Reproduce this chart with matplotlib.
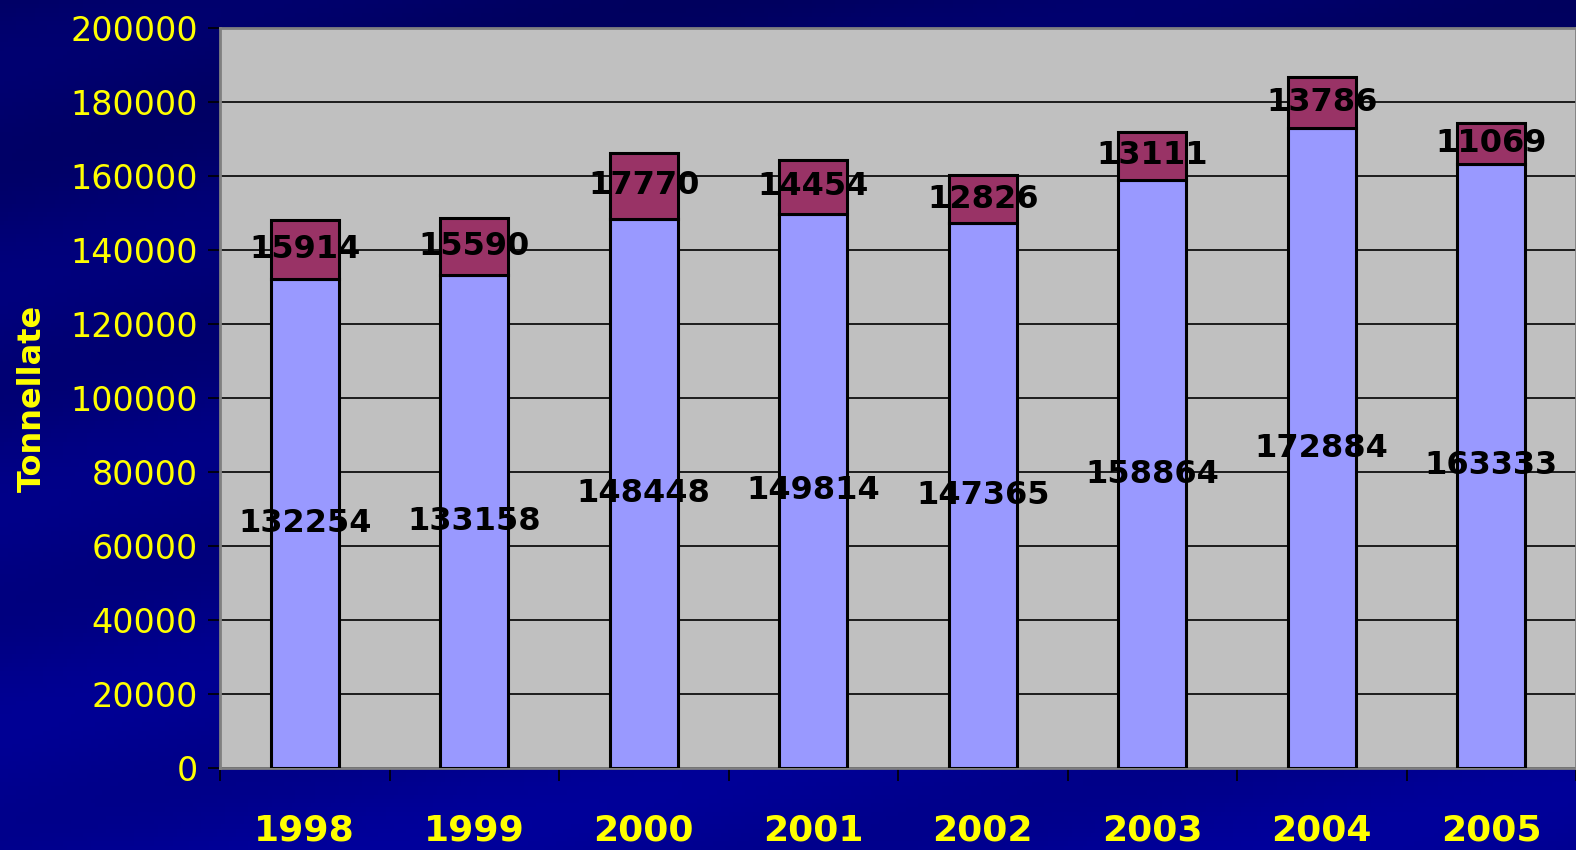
import numpy as np
import matplotlib
matplotlib.use('Agg')
import matplotlib.pyplot as plt

# dati
anni = ['1998', '1999', '2000', '2001', '2002', '2003', '2004', '2005']
base = [132254, 133158, 148448, 149814, 147365, 158864, 172884, 163333]
extra = [15914, 15590, 17770, 14454, 12826, 13111, 13786, 11069]
yticks = list(range(0, 200001, 20000))

fig = plt.figure(figsize=(15.76, 8.5), dpi=100)

# sfondo blu sfumato con bande diagonali
bg = fig.add_axes([0, 0, 1, 1], zorder=-10)
yy, xx = np.mgrid[0:1:200j, 0:1:400j]
shade = 0.40 + 0.18 * yy + 0.03 * np.sin((xx * 1.8 + yy * 4.0) * 6.0)
img = np.zeros(yy.shape + (3,))
img[..., 2] = shade
bg.imshow(img, aspect='auto', extent=[0, 1, 0, 1], origin='upper')
bg.axis('off')

ax = fig.add_axes([220 / 1576, 1 - 768 / 850, 1 - 220 / 1576, (768 - 28) / 850])
ax.set_facecolor('#C0C0C0')

x = np.arange(len(anni))
w = 0.40
ax.bar(x, base, w, color='#9999FF', edgecolor='black', linewidth=2.2, zorder=3)
ax.bar(x, extra, w, bottom=base, color='#993366', edgecolor='black',
       linewidth=2.2, zorder=3)

for i in range(len(anni)):
    ax.text(x[i], base[i] / 2, str(base[i]), ha='center', va='center',
            fontsize=23, fontweight='bold', color='black', zorder=5)
    ax.text(x[i], base[i] + extra[i] / 2, str(extra[i]), ha='center',
            va='center', fontsize=23, fontweight='bold', color='black', zorder=5)

ax.set_xlim(-0.5, 7.5)
ax.set_ylim(0, 200000)
ax.set_yticks(yticks)
ax.set_yticklabels([str(v) for v in yticks])
ax.yaxis.grid(True, color='black', linewidth=1.2, zorder=1)
ax.set_axisbelow(True)

# tick tra le categorie, etichette al centro
ax.set_xticks(np.arange(-0.5, 8, 1.0))
ax.set_xticklabels([])
ax.set_xticks(x, minor=True)
ax.set_xticklabels(anni, minor=True)
ax.tick_params(axis='x', which='major', length=9, width=1.2, color='black',
               direction='out')
ax.tick_params(axis='x', which='minor', length=0, pad=33, labelsize=26,
               labelcolor='yellow')
for t in ax.get_xticklabels(minor=True):
    t.set_fontweight('bold')
ax.tick_params(axis='y', length=9, width=1.2, color='black', pad=7,
               labelsize=24, labelcolor='yellow')

for s in ax.spines.values():
    s.set_color('#808080')
    s.set_linewidth(2)

ax.set_ylabel('Tonnellate', color='yellow', fontsize=23, fontweight='bold',
              labelpad=16)

fig.savefig('out.png', dpi=100, facecolor='#000080')
